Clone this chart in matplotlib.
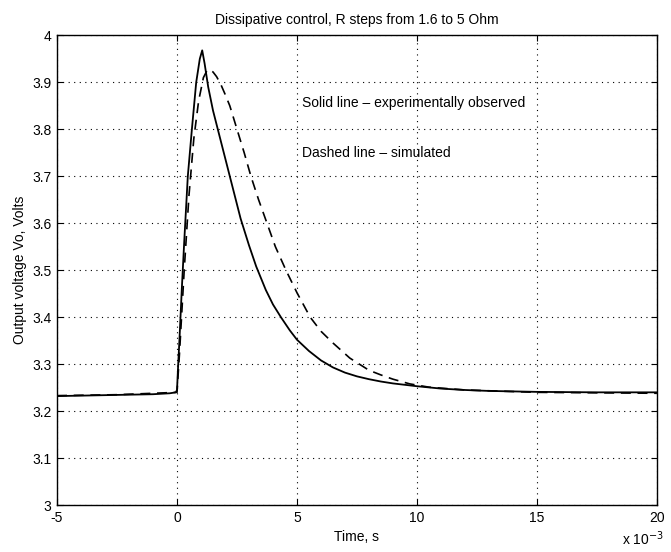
import numpy as np
import matplotlib
matplotlib.use('Agg')
import matplotlib.pyplot as plt

plt.rcParams['font.family'] = ['Liberation Sans', 'DejaVu Sans']

# time in ms, voltage in V
t_meas = [-5, -4, -3, -2, -1, -0.3, -0.05, 0, 0.05, 0.1, 0.2, 0.3, 0.45, 0.62,
          0.8, 0.95, 1.05, 1.15, 1.3, 1.5, 1.75, 2.0, 2.2, 2.45, 2.65, 3.0, 3.3,
          3.7, 4.0, 4.33, 4.7, 5.0, 5.5, 6.0, 6.5, 7.0, 7.5, 8.0, 8.5, 9.0, 10.0,
          11.0, 12.0, 13.0, 15.0, 17.5, 20.0]
v_meas = [3.232, 3.233, 3.234, 3.235, 3.236, 3.238, 3.240, 3.245, 3.30, 3.35,
          3.46, 3.56, 3.70, 3.80, 3.90, 3.95, 3.968, 3.94, 3.89, 3.84, 3.79,
          3.74, 3.70, 3.65, 3.61, 3.553, 3.508, 3.458, 3.427, 3.40, 3.372, 3.352,
          3.328, 3.308, 3.293, 3.282, 3.274, 3.268, 3.263, 3.259, 3.253, 3.248,
          3.245, 3.243, 3.241, 3.240, 3.240]

t_sim = [-5, -2.5, 0, 0.1, 0.3, 0.5, 0.7, 0.9, 1.1, 1.25, 1.35, 1.5, 1.65, 1.83,
         2.0, 2.2, 2.5, 2.8, 3.08, 3.4, 3.75, 4.1, 4.54, 5.0, 5.55, 6.0, 6.5,
         7.2, 8.0, 8.5, 9.0, 9.7, 10.5, 12.0, 15.0, 20.0]
v_sim = [3.233, 3.235, 3.240, 3.32, 3.50, 3.66, 3.78, 3.86, 3.91, 3.925, 3.927,
         3.922, 3.912, 3.895, 3.875, 3.85, 3.80, 3.75, 3.70, 3.65, 3.60, 3.55,
         3.50, 3.452, 3.40, 3.37, 3.345, 3.313, 3.287, 3.277, 3.268, 3.258,
         3.251, 3.245, 3.240, 3.238]

xticks = [-5, 0, 5, 10, 15, 20]
yticks = [3, 3.1, 3.2, 3.3, 3.4, 3.5, 3.6, 3.7, 3.8, 3.9, 4]

fig = plt.figure(figsize=(6.71, 5.52), dpi=100)
ax = fig.add_axes([0.085, 0.085, 0.894, 0.851])

ax.plot(t_meas, v_meas, color='black', lw=1.3)
ax.plot(t_sim, v_sim, color='black', lw=1.2, ls=(0, (6, 4)))

ax.set_xlim(-5, 20)
ax.set_ylim(3, 4)
ax.set_xticks(xticks)
ax.set_yticks(yticks)
ax.set_xticklabels([str(x) for x in xticks])
ax.set_yticklabels(['3', '3.1', '3.2', '3.3', '3.4', '3.5', '3.6', '3.7', '3.8', '3.9', '4'])
ax.grid(True, color='black', ls=(0, (1, 4)), lw=0.8)
ax.tick_params(direction='in', top=True, right=True, length=4, labelsize=10, pad=4)
for s in ax.spines.values():
    s.set_linewidth(1.0)

ax.set_title('Dissipative control, R steps from 1.6 to 5 Ohm', fontsize=10, pad=8)
ax.set_xlabel('Time, s', fontsize=10, labelpad=4)
ax.set_ylabel('Output voltage Vo, Volts', fontsize=10, labelpad=4)

ax.text(5.2, 3.855, 'Solid line \u2013 experimentally observed', fontsize=10, va='center')
ax.text(5.2, 3.75, 'Dashed line \u2013 simulated', fontsize=10, va='center')

fig.text(0.99, 0.008, 'x 10$^{-3}$', fontsize=10, ha='right', va='bottom')

fig.savefig('out.png', dpi=100)
